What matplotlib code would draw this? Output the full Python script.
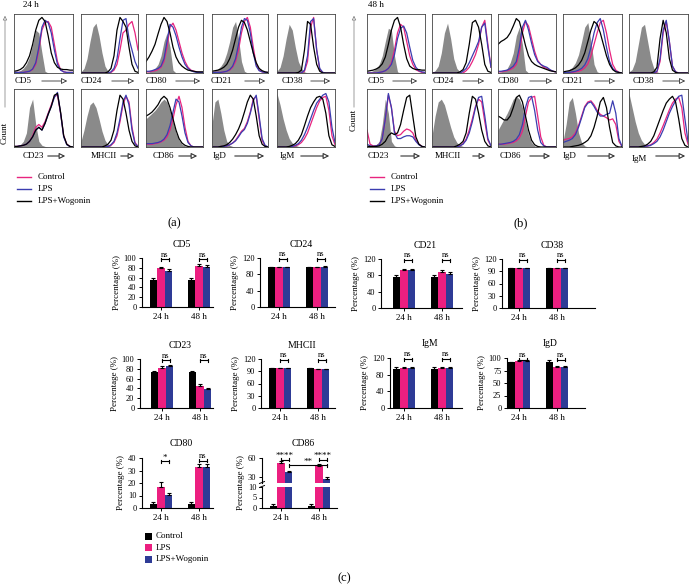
import matplotlib
matplotlib.use('Agg')
import matplotlib.pyplot as plt
from matplotlib.patches import FancyArrowPatch, Rectangle
from matplotlib.lines import Line2D
import numpy as np

plt.rcParams['font.family'] = ['Liberation Serif', 'DejaVu Serif']

# ---------------- histogram data (relative counts, 20 bins across each box) --------------
hist_top = ['CD5', 'CD24', 'CD80', 'CD21', 'CD38']
hist_bot = ['CD23', 'MHCII', 'CD86', 'IgD', 'IgM']

iso_24h = {
    'CD5':   [1,2,4,8,15,28,50,75,70,35,3,0,0,0,0,0,0,0,0,0],
    'CD24':  [2,8,25,55,80,87,65,35,12,3,0,0,0,0,0,0,0,0,0,0],
    'CD80':  [1,2,4,8,15,30,55,70,45,5,0,0,0,0,0,0,0,0,0,0],
    'CD21':  [2,4,7,12,20,35,55,80,90,60,20,3,0,0,0,0,0,0,0,0],
    'CD38':  [3,10,30,60,85,75,45,20,8,2,0,0,0,0,0,0,0,0,0,0],
    'CD23':  [1,2,4,10,25,70,85,40,10,3,1,0,0,0,0,0,0,0,0,0],
    'MHCII': [10,30,55,75,80,70,50,28,12,4,1,0,0,0,0,0,0,0,0,0],
    'CD86':  [50,55,60,65,72,80,85,80,65,45,25,12,5,2,1,0,0,0,0,0],
    'IgD':   [40,80,85,60,30,10,3,1,0,0,0,0,0,0,0,0,0,0,0,0],
    'IgM':   [95,75,50,30,15,7,3,1,0,0,0,0,0,0,0,0,0,0,0,0],
}
ctrl_24h = {
    'CD5':   [1,1,1,1,2,3,6,15,40,75,88,90,80,50,20,6,2,1,1,1],
    'CD24':  [0,0,0,0,0,0,0,0,0,0,1,5,15,40,70,75,85,90,70,40],
    'CD80':  [2,2,3,4,6,10,20,45,80,87,75,55,35,20,10,5,3,2,1,1],
    'CD21':  [1,1,1,1,2,3,5,10,20,40,70,90,97,80,45,15,5,2,1,1],
    'CD38':  [0,0,0,0,0,0,0,0,0,3,20,80,97,40,6,1,0,0,0,0],
    'CD23':  [1,1,2,3,5,10,20,35,40,35,45,60,75,90,92,60,20,5,1,0],
    'MHCII': [0,0,0,0,0,0,0,0,0,1,3,8,20,45,75,90,80,35,8,1],
    'CD86':  [5,5,5,6,7,9,12,18,30,50,75,90,70,35,10,2,0,0,0,0],
    'IgD':   [0,0,0,1,1,2,4,7,12,20,28,33,45,62,85,90,50,12,2,0],
    'IgM':   [0,0,0,0,0,1,2,4,8,15,25,40,55,70,82,88,90,65,20,4],
}
lps_24h = {
    'CD5':   [1,1,1,1,2,3,7,18,45,80,92,88,70,40,15,5,2,1,1,1],
    'CD24':  [0,0,0,0,0,0,0,0,0,0,2,8,25,60,92,95,60,40,20,8],
    'CD80':  [3,3,4,6,8,12,25,55,85,80,65,45,28,15,8,4,2,1,1,1],
    'CD21':  [1,1,1,1,2,3,6,12,25,50,80,95,92,70,35,12,4,2,1,1],
    'CD38':  [0,0,0,0,0,0,0,0,0,5,30,90,95,40,8,1,0,0,0,0],
    'CD23':  [1,1,2,3,5,10,18,30,35,30,42,58,72,88,97,60,18,4,1,0],
    'MHCII': [0,0,0,0,0,0,0,0,0,1,4,10,25,50,80,92,75,30,6,1],
    'CD86':  [6,6,6,7,8,10,14,22,38,62,85,80,55,25,8,2,0,0,0,0],
    'IgD':   [0,0,0,1,1,2,4,7,11,18,26,31,42,60,82,92,55,15,3,0],
    'IgM':   [0,0,0,0,0,1,3,6,12,22,35,50,65,78,85,92,95,80,35,8],
}
wog_24h = {
    'CD5':   [3,4,6,10,18,30,50,75,92,97,90,65,35,18,10,7,6,6,5,5],
    'CD24':  [0,0,0,0,0,0,0,0,0,2,8,30,75,97,90,80,45,15,3,1],
    'CD80':  [20,28,38,50,68,85,97,90,70,45,28,18,12,8,5,4,3,2,2,2],
    'CD21':  [3,4,5,7,10,15,25,40,60,80,92,88,75,55,35,18,8,4,2,1],
    'CD38':  [0,0,0,0,0,0,0,1,5,40,90,85,45,15,3,0,0,0,0,0],
    'CD23':  [1,1,2,3,5,10,18,30,35,30,42,58,72,92,95,62,20,5,1,0],
    'MHCII': [0,0,0,0,0,0,0,0,2,5,12,30,65,92,85,60,30,10,2,0],
    'CD86':  [55,58,62,68,75,85,90,85,70,50,30,15,7,3,1,0,0,0,0,0],
    'IgD':   [0,0,0,1,2,4,8,14,22,32,45,62,80,92,85,55,20,5,1,0],
    'IgM':   [0,0,0,0,1,3,6,12,22,38,55,70,80,88,90,85,60,20,4,1],
}
iso_48h = {
    'CD5':   [1,2,4,8,15,30,55,78,75,30,2,0,0,0,0,0,0,0,0,0],
    'CD24':  [1,4,12,35,70,87,60,25,8,2,0,0,0,0,0,0,0,0,0,0],
    'CD80':  [1,2,4,8,18,35,65,80,50,5,0,0,0,0,0,0,0,0,0,0],
    'CD21':  [2,3,6,10,18,32,55,80,88,55,15,2,0,0,0,0,0,0,0,0],
    'CD38':  [2,6,20,50,80,85,55,25,8,2,0,0,0,0,0,0,0,0,0,0],
    'CD23':  [1,1,2,4,10,40,85,60,10,2,0,0,0,0,0,0,0,0,0,0],
    'MHCII': [20,55,80,85,75,55,35,18,8,3,1,0,0,0,0,0,0,0,0,0],
    'CD86':  [30,40,50,60,72,85,90,85,70,45,22,8,2,1,0,0,0,0,0,0],
    'IgD':   [10,40,80,88,60,25,8,2,0,0,0,0,0,0,0,0,0,0,0,0],
    'IgM':   [95,70,45,25,12,5,2,1,0,0,0,0,0,0,0,0,0,0,0,0],
}
ctrl_48h = {
    'CD5':   [0,0,0,0,1,2,4,8,18,40,70,85,80,55,30,15,6,3,1,1],
    'CD24':  [0,0,0,0,0,0,0,0,0,0,0,4,10,20,32,50,80,92,50,10],
    'CD80':  [2,2,3,4,6,9,15,35,70,90,82,60,38,22,15,10,8,5,3,2],
    'CD21':  [0,0,1,1,2,3,5,9,16,30,50,70,88,92,70,40,15,5,1,0],
    'CD38':  [0,0,0,0,0,0,0,0,0,2,20,70,90,55,12,2,0,0,0,0],
    'CD23':  [30,5,2,2,4,15,50,92,70,28,20,22,28,32,30,25,12,5,1,0],
    'MHCII': [0,0,0,0,0,0,0,0,0,2,6,14,30,50,72,85,80,45,12,2],
    'CD86':  [5,5,5,6,7,8,11,16,28,55,80,88,90,55,18,3,0,0,0,0],
    'IgD':   [12,14,15,18,25,38,55,72,80,82,75,65,58,55,52,48,50,40,10,1],
    'IgM':   [0,0,0,0,0,1,2,4,8,14,25,38,52,66,78,85,88,70,25,5],
}
lps_48h = {
    'CD5':   [0,0,0,0,1,2,4,8,15,32,60,78,82,70,45,22,10,4,2,1],
    'CD24':  [0,0,0,0,0,0,0,0,0,0,3,8,18,30,42,55,80,87,45,10],
    'CD80':  [3,3,4,5,8,12,20,45,80,92,75,52,32,20,15,12,10,6,3,2],
    'CD21':  [1,1,1,2,3,5,8,14,25,45,70,88,95,75,45,20,8,3,1,0],
    'CD38':  [0,0,0,0,0,0,0,0,0,3,25,75,92,55,12,2,0,0,0,0],
    'CD23':  [5,2,1,2,4,15,50,95,70,25,15,15,18,20,20,18,10,4,1,0],
    'MHCII': [0,0,0,0,0,0,0,0,0,2,5,12,25,45,70,88,90,55,15,2],
    'CD86':  [5,5,6,7,8,10,14,22,40,70,88,90,65,30,8,2,0,0,0,0],
    'IgD':   [8,10,12,15,22,35,52,70,78,80,72,62,55,55,58,60,82,60,15,1],
    'IgM':   [0,0,0,0,0,1,2,3,6,10,18,30,45,60,72,82,90,92,50,10],
}
wog_48h = {
    'CD5':   [3,4,5,7,10,16,28,50,75,92,97,80,50,25,12,8,6,6,5,5],
    'CD24':  [0,0,0,0,0,0,0,0,0,2,6,18,50,88,92,80,50,15,3,1],
    'CD80':  [50,55,58,62,70,82,95,90,70,48,30,20,15,12,10,8,6,4,3,2],
    'CD21':  [2,3,4,6,9,14,22,35,55,75,90,85,70,50,30,15,6,2,1,0],
    'CD38':  [0,0,0,0,0,0,0,0,2,10,60,92,70,25,5,1,0,0,0,0],
    'CD23':  [1,1,1,1,2,5,10,20,25,22,25,40,65,88,92,55,18,5,1,0],
    'MHCII': [0,0,0,0,0,0,0,0,2,5,10,25,60,90,85,60,30,10,2,0],
    'CD86':  [55,52,48,48,55,70,88,92,80,55,30,12,4,1,0,0,0,0,0,0],
    'IgD':   [0,0,0,1,2,3,5,8,12,20,35,55,80,88,70,35,8,2,0,0],
    'IgM':   [0,0,0,0,1,2,5,10,20,35,50,65,78,85,90,80,50,15,3,0],
}

# ---------------- bar chart data ----------------
bar_markers = ['CD5', 'CD24', 'CD21', 'CD38', 'CD23', 'MHCII', 'IgM', 'IgD', 'CD80', 'CD86']
time_labels = ['24 h', '48 h']
bar_ctrl     = [[56,56],[98,98],[77,77],[97,97],[73,73],[97,97],[94,94],[92,92],[3,3],[1,1]]
bar_ctrl_err = [[3,3],[0.5,0.5],[4,4],[0.5,0.5],[3,3],[1,1],[4,4],[1,4],[1.5,1.5],[1,1]]
bar_lps      = [[79,84],[98,98],[94,89],[97,97],[82,45],[97,96],[97,97],[94,82],[17,33],[52,48]]
bar_lps_err  = [[3,3],[0.5,0.5],[2,4],[0.5,0.5],[4,4],[1,0.5],[1,1],[2,3],[4,2],[3,3]]
bar_wog      = [[74,82],[98,99],[94,83],[97,97],[85,38],[97,96],[97,97],[94,82],[10.5,33],[37,27]]
bar_wog_err  = [[3,3],[0.5,1],[2,4],[0.5,0.5],[3,3],[1,0.5],[2,2],[2,3],[1.5,2.5],[3,3]]
sig_labels   = [['ns','ns']]*8 + [['*','ns'], ['****','****']]
sig_heights  = [[97,97],[117,117],[117,117],[117,117],[97,97],[117,117],[117,117],[97,97],[37.5,38],[57,57]]
y_limits     = [100,120,120,120,100,120,120,100,40,60]
y_steps      = [20,40,40,30,20,30,40,25,10,30]
legend_names = ['Control', 'LPS', 'LPS+Wogonin']

# ---------------- style / layout ----------------
PINK = '#e8247f'
BLUE = '#3b3db0'
GRAY = '#8a8a8a'
BAR_PINK = '#ec1f80'
BAR_BLUE = '#2e3b96'

W, H = 690, 585
fig = plt.figure(figsize=(W / 100, H / 100), dpi=100)


def px_axes(x0, y0, x1, y1):
    return fig.add_axes([x0 / W, 1 - y1 / H, (x1 - x0) / W, (y1 - y0) / H])


def ftext(x, y, s, **kw):
    fig.text(x / W, 1 - y / H, s, **kw)


def farrow(x0, y0, x1, y1, lw=0.7, color='#333333', ms=7):
    a = FancyArrowPatch((x0 / W, 1 - y0 / H), (x1 / W, 1 - y1 / H),
                        transform=fig.transFigure,
                        arrowstyle='-|>,head_length=0.5,head_width=0.25',
                        mutation_scale=ms, fc='white', ec=color, lw=lw)
    fig.add_artist(a)


def fline(x0, y0, x1, y1, **kw):
    fig.add_artist(Line2D([x0 / W, x1 / W], [1 - y0 / H, 1 - y1 / H],
                          transform=fig.transFigure, **kw))


# ---------------- panels (a) and (b): histograms ----------------
hist_sets = [
    dict(t='24 h', tx=23, iso=iso_24h, ctrl=ctrl_24h, lps=lps_24h, wog=wog_24h,
         boxes=[(14, 73), (81, 138), (146, 203), (212, 268), (277, 335)],
         top_tx=[15, 81, 146, 211, 282],
         top_ar=[(39, 70), (109, 137), (173, 203), (242, 268), (308, 333)],
         bot_tx=[23, 91, 153, 213, 280],
         bot_ar=[(45, 68), (118, 137), (176, 200), (232, 267), (298, 332)],
         cx=5, cy=133, lx=17, letter='(a)', letx=167),
    dict(t='48 h', tx=368, iso=iso_48h, ctrl=ctrl_48h, lps=lps_48h, wog=wog_48h,
         boxes=[(367, 425), (432, 491), (498, 556), (563, 622), (629, 688)],
         top_tx=[368, 433, 498, 562, 633],
         top_ar=[(390, 420), (460, 487), (527, 555), (592, 618), (660, 688)],
         bot_tx=[368, 435, 500, 563, 632],
         bot_ar=[(398, 423), (470, 488), (527, 553), (585, 618), (653, 688)],
         cx=354, cy=120, lx=370, letter='(b)', letx=513),
]
rows_y = [(14, 73), (89, 147)]
label_y = [81, 156]

for hs in hist_sets:
    ftext(hs['tx'], 5, hs['t'], fontsize=6.5, ha='left', va='center')
    for r, names in enumerate([hist_top, hist_bot]):
        y0, y1 = rows_y[r]
        for j, name in enumerate(names):
            x0, x1 = hs['boxes'][j]
            ax = px_axes(x0, y0, x1, y1)
            xs = np.linspace(0, 1, len(hs['iso'][name]))
            ax.fill_between(xs, hs['iso'][name], color=GRAY, lw=0)
            ax.plot(xs, hs['ctrl'][name], color=PINK, lw=0.9)
            ax.plot(xs, hs['lps'][name], color=BLUE, lw=0.9)
            ax.plot(xs, hs['wog'][name], color='black', lw=0.9)
            ax.set_xlim(0, 1)
            ax.set_ylim(0, 103)
            ax.set_xticks([])
            ax.set_yticks([])
            for s in ax.spines.values():
                s.set_linewidth(0.6)
                s.set_color('#444444')
            txs = hs['top_tx'] if r == 0 else hs['bot_tx']
            ars = hs['top_ar'] if r == 0 else hs['bot_ar']
            ly = label_y[r] + (3 if (name == 'IgM' and hs['t'] == '48 h') else 0)
            ftext(txs[j], ly, name, fontsize=6.5, ha='left', va='center')
            farrow(ars[j][0], label_y[r], ars[j][1], label_y[r], lw=0.8 if r else 0.6)
    # count axis
    farrow(hs['cx'], 110, hs['cx'], 13, lw=0.5, color='#777777', ms=5)
    ftext(hs['cx'], hs['cy'], 'Count', fontsize=6.5, rotation=90, ha='center', va='center')
    # legend
    for k, (nm, col) in enumerate(zip(legend_names, [PINK, BLUE, 'black'])):
        yy = 177 + 12 * k
        fline(hs['lx'], yy, hs['lx'] + 14, yy, color=col, lw=1.0)
        ftext(hs['lx'] + 21, yy, nm, fontsize=6.5, ha='left', va='center')
    ftext(hs['letx'], 223, hs['letter'], fontsize=9, ha='left', va='center')

# ---------------- panel (c): bar charts ----------------
# (left, top, right, bottom, first group centre) in pixels
bar_boxes = [
    (142, 258, 213, 307, 161), (260, 258, 335, 307, 279),
    (381, 259, 462, 308, 404), (502, 259, 595, 308, 519),
    (140, 359, 213, 408, 162), (261, 359, 335, 408, 280),
    (390, 358, 462, 408, 404), (507, 358, 585, 408, 519),
    (142, 458, 213, 508, 161), (262, 458, 337, 508, 281),
]
SP = 38.0
BW = 0.2


def style_axes(ax, ylim, step, show_bottom=True):
    ax.spines['top'].set_visible(False)
    ax.spines['right'].set_visible(False)
    for s in ['left', 'bottom']:
        ax.spines[s].set_linewidth(0.8)
    ax.set_ylim(*ylim)
    ax.set_yticks(np.arange(ylim[0] if ylim[0] % step == 0 else (ylim[0] // step + 1) * step,
                            ylim[1] + 0.01, step))
    ax.tick_params(axis='both', labelsize=6, length=2.5, width=0.7, pad=1.5)
    if not show_bottom:
        ax.spines['bottom'].set_visible(False)
        ax.set_xticks([])


def draw_bars(ax, i):
    xs = np.arange(2)
    series = [(bar_ctrl[i], bar_ctrl_err[i], 'black'),
              (bar_lps[i], bar_lps_err[i], BAR_PINK),
              (bar_wog[i], bar_wog_err[i], BAR_BLUE)]
    for k, (vals, errs, col) in enumerate(series):
        ax.bar(xs + (k - 1) * BW, vals, BW, color=col, lw=0,
               yerr=[[0, 0], errs],
               error_kw=dict(ecolor='black', elinewidth=0.8, capsize=1.6, capthick=0.8))


def bracket(ax, xa, xb, h, label, px_h, yr):
    dy = yr / px_h * 1.6
    kw = dict(color='black', lw=0.8, clip_on=False)
    ax.plot([xa, xb], [h, h], **kw)
    ax.plot([xa, xa], [h - dy, h + dy], **kw)
    ax.plot([xb, xb], [h - dy, h + dy], **kw)
    off = dy * (0.6 if label == 'ns' else -0.3)
    ax.text((xa + xb) / 2, h + off, label, ha='center', va='bottom',
            fontsize=6 if label == 'ns' else 6.5, clip_on=False)


for i, name in enumerate(bar_markers):
    l, t, r, b, c0 = bar_boxes[i]
    xl = (-(c0 - l) / SP, (r - c0) / SP)
    if name != 'CD86':
        ax = px_axes(l, t, r, b)
        draw_bars(ax, i)
        ax.set_xlim(*xl)
        style_axes(ax, (0, y_limits[i]), y_steps[i])
        ax.set_xticks([0, 1])
        ax.set_xticklabels(time_labels, fontsize=6.5)
        ax.set_ylabel('Percentage (%)', fontsize=6.5, labelpad=2)
        for g in range(2):
            bracket(ax, g, g + BW, sig_heights[i][g], sig_labels[i][g], b - t, y_limits[i])
        ftext((l + r) / 2 + 4, t - 14, name, fontsize=7, ha='center', va='center')
    else:
        axu = px_axes(l, t, r, t + 25)
        axl = px_axes(l, t + 29, r, b)
        for ax in (axu, axl):
            draw_bars(ax, i)
            ax.set_xlim(*xl)
        style_axes(axu, (20, 60), 30, show_bottom=False)
        style_axes(axl, (0, 10), 5)
        axl.set_xticks([0, 1])
        axl.set_xticklabels(time_labels, fontsize=6.5)
        for g in range(2):
            bracket(axu, g, g + BW, sig_heights[i][g], sig_labels[i][g], 25, 40)
        # comparison 24 h LPS+Wogonin vs 48 h LPS+Wogonin
        bracket(axu, BW, 1 + BW, 48.5, '**', 25, 40)
        # axis break marks
        fline(l - 2.5, t + 25.5, l + 2.5, t + 23.5, color='black', lw=0.7)
        fline(l - 2.5, t + 29.5, l + 2.5, t + 27.5, color='black', lw=0.7)
        ftext(l - 21, (t + b) / 2, 'Percentage (%)', fontsize=6.5, rotation=90,
              ha='center', va='center')
        ftext((l + r) / 2 + 4, t - 14, name, fontsize=7, ha='center', va='center')

# legend for (c)
for k, (nm, col) in enumerate(zip(legend_names, ['black', BAR_PINK, BAR_BLUE])):
    yy = 536 + 11.5 * k
    fig.add_artist(Rectangle((145 / W, 1 - (yy + 3.5) / H), 7 / W, 7 / H,
                             transform=fig.transFigure, color=col, lw=0))
    ftext(156, yy, nm, fontsize=6.5, ha='left', va='center')

ftext(338, 578, '(c)', fontsize=9, ha='left', va='center')

fig.savefig('out.png', dpi=100)
